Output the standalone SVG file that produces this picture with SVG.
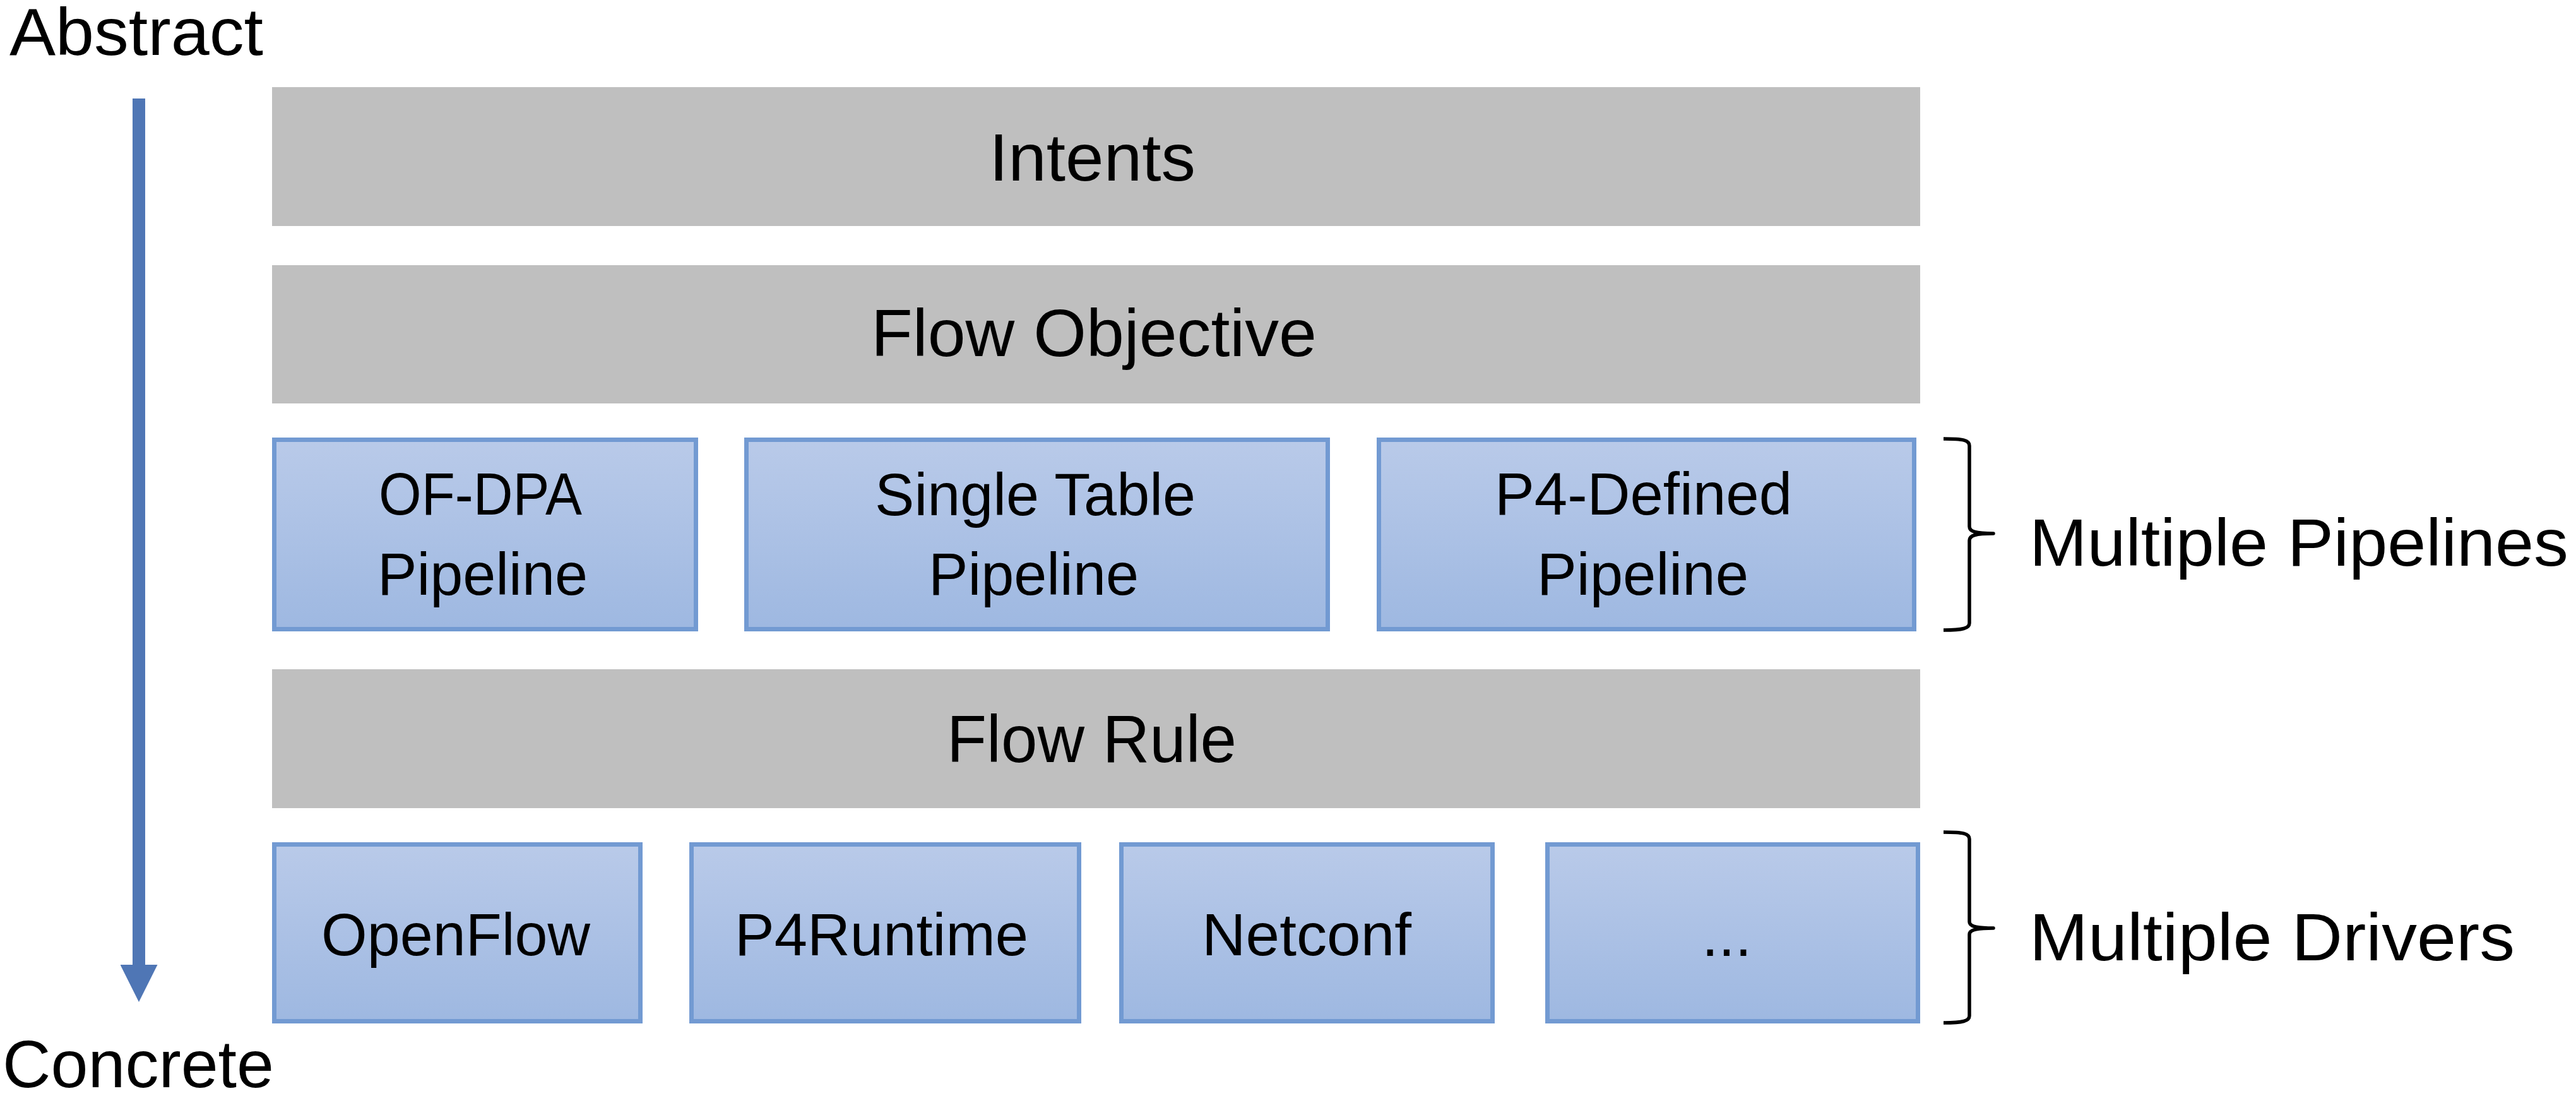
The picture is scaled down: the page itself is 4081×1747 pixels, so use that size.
<svg xmlns="http://www.w3.org/2000/svg" width="4081" height="1747" viewBox="0 0 4081 1747">
  <defs>
    <linearGradient id="blueFill" x1="0" y1="0" x2="0" y2="1">
      <stop offset="0" stop-color="#B9CAE9"/>
      <stop offset="1" stop-color="#9EB8E1"/>
    </linearGradient>
    <marker id="arrowHead" markerUnits="userSpaceOnUse" markerWidth="59" markerHeight="59" viewBox="0 0 59 59" refX="0" refY="29.5" orient="auto">
      <path d="M0,0 L59,29.5 L0,59 Z" fill="#4F76B5"/>
    </marker>
    <style>
      .gray { fill: #BFBFBF; }
      .blue { fill: url(#blueFill); stroke: #729AD2; stroke-width: 7; }
      .big { font-family: "Liberation Sans", Arial, sans-serif; font-size: 105px; fill: #000000; }
      .box { font-family: "Liberation Sans", Arial, sans-serif; font-size: 95px; fill: #000000; }
      .brace { fill: none; stroke: #000000; stroke-width: 5.5; stroke-linejoin: round; }
      .axis { fill: none; stroke: #4F76B5; stroke-width: 20; }
    </style>
  </defs>
  <rect x="0" y="0" width="4081" height="1747" fill="#FFFFFF"/>

  <g id="label-abstract">
    <text class="big" x="15" y="87" textLength="402" lengthAdjust="spacingAndGlyphs">Abstract</text>
  </g>
  <g id="label-concrete">
    <text class="big" x="4" y="1722" textLength="430" lengthAdjust="spacingAndGlyphs">Concrete</text>
  </g>

  <g id="connectors">
    <path class="axis" d="M220,156 L220,1528" marker-end="url(#arrowHead)"/>
  </g>

  <g id="node-intents">
    <rect class="gray" x="431" y="138" width="2611" height="220"/>
    <text class="big" x="1567" y="286" textLength="327" lengthAdjust="spacingAndGlyphs">Intents</text>
  </g>
  <g id="node-flow-objective">
    <rect class="gray" x="431" y="420" width="2611" height="219"/>
    <text class="big" x="1380" y="564" textLength="706" lengthAdjust="spacingAndGlyphs">Flow Objective</text>
  </g>

  <g id="node-ofdpa">
    <rect class="blue" x="434.5" y="696.5" width="668" height="300"/>
    <text class="box" x="600" y="815" textLength="322" lengthAdjust="spacingAndGlyphs">OF-DPA</text>
    <text class="box" x="598" y="942" textLength="333" lengthAdjust="spacingAndGlyphs">Pipeline</text>
  </g>
  <g id="node-single-table">
    <rect class="blue" x="1182.5" y="696.5" width="921" height="300"/>
    <text class="box" x="1386" y="816" textLength="508" lengthAdjust="spacingAndGlyphs">Single Table</text>
    <text class="box" x="1471" y="942" textLength="333" lengthAdjust="spacingAndGlyphs">Pipeline</text>
  </g>
  <g id="node-p4-defined">
    <rect class="blue" x="2184.5" y="696.5" width="848" height="300"/>
    <text class="box" x="2368" y="815" textLength="471" lengthAdjust="spacingAndGlyphs">P4-Defined</text>
    <text class="box" x="2435" y="942" textLength="335" lengthAdjust="spacingAndGlyphs">Pipeline</text>
  </g>

  <g id="node-flow-rule">
    <rect class="gray" x="431" y="1060" width="2611" height="220"/>
    <text class="big" x="1500" y="1207" textLength="459" lengthAdjust="spacingAndGlyphs">Flow Rule</text>
  </g>

  <g id="node-openflow">
    <rect class="blue" x="434.5" y="1337.5" width="580" height="280"/>
    <text class="box" x="509" y="1513" textLength="426" lengthAdjust="spacingAndGlyphs">OpenFlow</text>
  </g>
  <g id="node-p4runtime">
    <rect class="blue" x="1095.5" y="1337.5" width="614" height="280"/>
    <text class="box" x="1164" y="1513" textLength="465" lengthAdjust="spacingAndGlyphs">P4Runtime</text>
  </g>
  <g id="node-netconf">
    <rect class="blue" x="1776.5" y="1337.5" width="588" height="280"/>
    <text class="box" x="1904" y="1513" textLength="332" lengthAdjust="spacingAndGlyphs">Netconf</text>
  </g>
  <g id="node-more">
    <rect class="blue" x="2451.5" y="1337.5" width="587" height="280"/>
    <text class="box" x="2696" y="1514" textLength="79" lengthAdjust="spacingAndGlyphs">...</text>
  </g>

  <g id="brace-pipelines">
    <path class="brace" d="M3079,695 C3110,695 3120,697 3120,706 L3120,834 C3120,842 3130,845 3158,845 C3130,845 3120,848 3120,856 L3120,987 C3120,995 3110,998 3079,998"/>
    <text class="big" x="3215" y="896" textLength="854" lengthAdjust="spacingAndGlyphs">Multiple Pipelines</text>
  </g>
  <g id="brace-drivers">
    <path class="brace" d="M3079,1318 C3110,1318 3120,1320 3120,1329 L3120,1460 C3120,1467 3130,1470 3158,1470 C3130,1470 3120,1473 3120,1480 L3120,1609 C3120,1617 3110,1620 3079,1620"/>
    <text class="big" x="3215" y="1521" textLength="769" lengthAdjust="spacingAndGlyphs">Multiple Drivers</text>
  </g>
</svg>
